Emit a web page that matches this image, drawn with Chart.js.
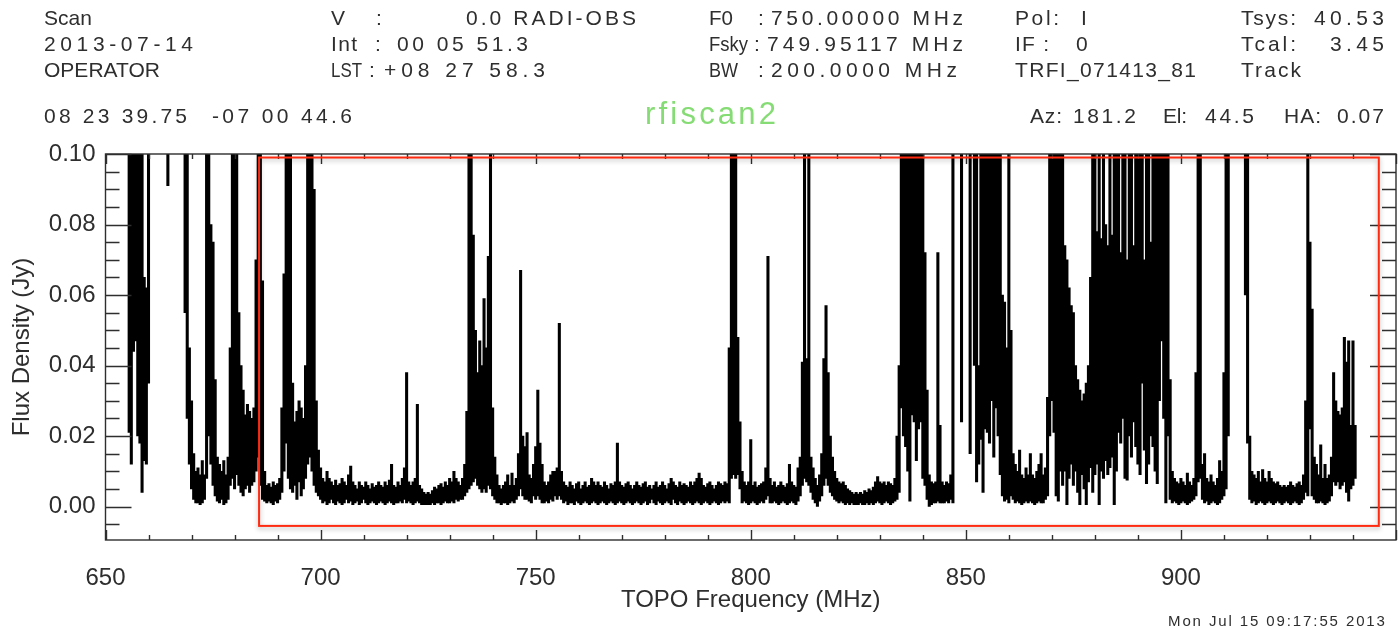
<!DOCTYPE html>
<html>
<head>
<meta charset="utf-8">
<title>rfiscan2</title>
<script src="https://cdn.jsdelivr.net/npm/chart.js@4.4.1/dist/chart.umd.min.js"></script>
<style>
  html, body { margin: 0; padding: 0; background: #fff; }
  #wrap { position: relative; width: 1398px; height: 627px; overflow: hidden; }
  #plot { position: absolute; left: 0; top: 0; }
  .hd { position: absolute; font-family: 'Liberation Sans', Arial, sans-serif; white-space: pre; color: #2e2e2e;
        transform-origin: 0 50%; }
</style>
</head>
<body>
<div id="wrap">
  <canvas id="plot" width="1398" height="627"></canvas>
</div>
<script>
// Spectrum, one floating bar per 0.5 MHz channel: min / max flux in mJy
// (150 means the channel is off the top of the plot)
const startMHz = 655.0;
const channelMHz = 0.5;

const fluxLoMJy = [
  150,21,12,44,47,20,18,4,13,12,35,150,150,150,150,150,150,150,150,91,
  150,150,150,150,150,150,150,55,25,12,5,2,1,1,0.5,1,2,8,20,12,
  6,3,1.5,1,2,0.5,1,2,6,8,5,9,6,4,3,5,6,4,6,7,
  10,14,6,2,1.5,1,1.5,1,0.5,1.5,1,2,4,10,18,8,5,4,6,2,
  7,3,5,8,12,14,10,6,4,3,2,1,1.5,0.5,1,2,1,0.5,1.5,1,
  0.5,1,2,1,1.5,0.5,1,1.5,0.5,1,2,1,0.5,1,1.5,1,0.5,1,1.5,1,
  0.5,1,1.5,1,0.5,1,1,1.5,1,2,1,1.5,1,0.5,1,1.5,1,0.5,0.5,0.5,
  0.5,0.5,1,0.5,1,1,0.5,1,1.5,1,1,1.5,1,2,1.5,2,2,3,4,5,
  6,7,8,6,5,4,5,4,6,5,3,2,1,1,0.5,1,1,0.5,1,1.5,
  1,2,3,5,3,2,2,1.5,1,3,2,3,2,1,1,1.5,1,2,1.5,3,
  2,3,2,1,1.5,0.5,1,1,0.5,1.5,1,0.5,1,1.5,1,0.5,1,1.5,1,0.5,
  1,1.5,1,0.5,1,1.5,1,0.5,1,1.5,1,0.5,1,1.5,1,0.5,1,1.5,1,0.5,
  1,1.5,0.5,1,2,1,0.5,1.5,1,0.5,1,1.5,1,0.5,2,1,0.5,1.5,1,0.5,
  1,1.5,1,0.5,1,1.5,1,0.5,1,1.5,1,0.5,1,1.5,1,0.5,1,1.5,1,1.5,
  1,8,9,8,9,5,1,1.5,1,0.5,1,1.5,1,0.5,1,1.5,1,2,3,1,
  1,1.5,1,0.5,1,1.5,1,0.5,1,1.5,1,0.5,1.5,3,6,8,7,6,4,2,
  1,0,1.5,3,6,8,6,4,3,2,1.5,1,1.5,1,0.5,1,0.5,1,0.5,0.5,
  0.5,1,0.5,0.5,1,0.5,1,0.5,1,1.5,1,0.5,1,1.5,1,0.5,1,1.5,2,4,
  28,20,17,10,1.5,26,24,13,22,24,8,6,2,0,0.5,1,1,1.5,1,1,
  1,1.5,1,2,1,150,150,150,24,150,150,150,15,150,40,7,12,19,4,22,
  21,18,30,14,28,20,9,3,1.5,2,1,3,2,1,1.5,1,0.5,1,1.5,1,
  1.5,1,0.5,1,1.5,1,1,2,3,20,30,21,3,1.5,10,6,10,0.5,8,12,
  6,10,4,0.5,9,5,0.5,7,11,4,9,12,0.5,10,8,13,9,11,14,0.5,
  10,21,18,25,8,7.5,20,14,24,17,12,9,35,16,6.5,12,20,17,10,6.5,
  30,47,25,1,20,2,1,1.5,1,0.5,1,1.5,1,0.5,1,1.5,2,3,7,8,
  2,1,1.5,0.5,1,1.5,1,0.5,1,2,3,5,20,150,150,150,150,150,150,150,
  60,18,2,1,1.5,0.5,1,1.5,1,0.5,1,1.5,1,0.5,1,1.5,1,0.5,1,1.5,
  1,0.5,1,1.5,1,0.5,1,2,4,3,22,3,2,1,1,1.5,1,0.5,1,1.5,
  3,7,6,7,5,6,7,4,1.5,5,6,8
];

const fluxHiMJy = [
  150,150,150,150,150,150,150,150,65,62,150,150,150,150,150,150,150,150,150,150,
  150,150,150,150,150,150,150,150,150,45,30,15,10,11,9,13,9,150,150,80,
  75,36,14,12,10,13,9,14,45,150,150,150,55,40,33,26,29,27,25,28,
  70,150,150,64,10,6,6.5,5.5,7,6,6.5,8,28,66,150,150,150,35,24,27,
  30,28,25,40,150,150,150,90,30,16,11,8,7,10,8,7,6,7.5,6,6.5,
  8,7,6,9,11.5,7,6,5,7,6,5.5,7,6,5,6.5,5.5,6,7,6,5.5,
  7,6,7.5,12,6,5.5,7,6,8,11,38,7,6,7,8,29,6,5,4,3.5,
  4,3.5,4.5,5.5,5,6,6.5,5.5,7,6,8,7,10,8,7,6,8,12,27,150,
  150,77,50,38,47,40,59,45,71,150,28,14,9,6,5,6,7,9,6,9.5,
  6,8,15,67,20,17,21,9,8,12,17,33,18,12,7,6,7,9,10,10,
  11,52,10,7,6,5.5,7,6,5,6.5,7,5,6,7,5.5,6,8,7,6,7,
  6,5.5,7,6,5,6.5,6,7,18,7,6,5.5,6.5,7,6,5,6,7,6,5.5,
  6.5,7,5.5,6,5,6,7,5.5,6,7,6,5,6.5,8,7,6,5.5,7,6,6.5,
  6,5.5,7,6,7,8,9.5,8,6,5.5,6.5,7,6,5,6,7,6.5,6,7,6.5,
  45,150,150,150,48,24,10,7,6,7,19,6,7,5.5,6,6.5,7,11,71,8,
  6,7,5.5,6,7,6,5.5,6.5,12,7,6,5.5,11,14,41,150,42,150,14,11,
  8,6,9,15,42,57,38,20,14,10,8,7,6.5,7,6,5,4.5,4,3.5,4,
  3.5,4,3.5,4.5,4,5,4.5,5.5,7,8.5,7,6.5,7,6,7,6.5,6,8,20,40,
  150,150,150,150,150,150,150,150,150,150,150,72,33,9,7,6.5,7,72,23,7,
  6,7,6.5,9,150,150,150,150,150,150,150,150,150,150,150,150,40,150,150,150,
  150,150,150,150,150,150,150,60,58,45,150,50,15,12,10,16,9,8,11,9,
  15,9,8,10,12,15,9,11,31,150,150,150,150,150,150,150,74,70,62,57,
  55,40,36,33,30,32,35,40,65,150,150,78,150,76,150,80,74,150,77,150,
  150,150,72,150,150,70,150,150,74,150,150,150,150,70,150,150,75,150,150,150,
  150,150,150,150,150,36,10,8,7,6.5,8,7,6,9.5,7,6,8,38,150,150,
  12,15,8,7,9,7,6,8,13,10,38,150,150,150,150,150,150,150,150,150,
  150,150,20,10,9,8,10,7,10.5,8,7,10,8,7,6.5,7,6,5.5,6,5.5,
  6,7,6,5.5,6.5,7,6,9,30,150,75,56,14,12,9,17.5,8,12,8,9,
  14,38,30,27,26,28,48,41,47,23,47,23
];

// axis ranges and labelled ticks
const freqRangeMHz = [650, 950];
const fluxRangeJy = [-0.0095, 0.1];
const xTickLabels = [650, 700, 750, 800, 850, 900];
const yTickLabels = [0.00, 0.02, 0.04, 0.06, 0.08, 0.10];
const xMinorStep = 10, xMajorStep = 50;
const yMinorStep = 0.005, yMajorStep = 0.02;

// red highlight box (data units)
const highlightMHz = [685.7, 946.0];
const highlightJy = [-0.0055, 0.099];

// header text: [text, left, right, row]; each piece is stretched to its span
const rowY = [17.5, 43.5, 69.5, 115.5];
const header = [
  ['Scan', 44, 92, 0], ['V', 331, 345, 0], [':', 376, 380, 0], ['0.0 RADI-OBS', 466, 636, 0],
  ['F0', 709, 733, 0], [':', 758, 762, 0], ['750.00000 MHz', 771, 963, 0],
  ['Pol:', 1015, 1059, 0], ['I', 1081, 1085, 0], ['Tsys:', 1241, 1296, 0], ['40.53', 1314, 1384, 0],
  ['2013-07-14', 44, 193, 1], ['Int', 331, 357, 1], [':', 375, 379, 1], ['00 05 51.3', 397, 528, 1],
  ['Fsky', 709, 748, 1], [':', 754, 758, 1], ['749.95117 MHz', 767, 963, 1],
  ['IF :', 1015, 1049, 1], ['0', 1076, 1087, 1], ['Tcal:', 1241, 1296, 1], ['3.45', 1330, 1384, 1],
  ['OPERATOR', 44, 160, 2], ['LST', 331, 362, 2], [':', 369, 373, 2], ['+08 27 58.3', 384, 545, 2],
  ['BW', 709, 738, 2], [':', 758, 762, 2], ['200.0000 MHz', 771, 957, 2],
  ['TRFI_071413_81', 1015, 1196, 2], ['Track', 1241, 1301, 2],
  ['08 23 39.75', 44, 187, 3], ['-07 00 44.6', 212, 352, 3],
  ['Az:', 1030, 1062, 3], ['181.2', 1073, 1136, 3], ['El:', 1163, 1187, 3], ['44.5', 1205, 1254, 3],
  ['HA:', 1284, 1321, 3], ['0.07', 1337, 1384, 3]
];

const FONT = "'Liberation Sans', Arial, sans-serif";
const INK = '#2e2e2e';

const wrap = document.getElementById('wrap');
const measure = document.createElement('canvas').getContext('2d');

function placeText(text, left, right, centerY, size, color) {
  const el = document.createElement('div');
  el.className = 'hd';
  el.textContent = text;
  el.style.fontSize = size + 'px';
  el.style.lineHeight = size + 'px';
  el.style.left = left + 'px';
  el.style.top = (centerY - size * 0.5) + 'px';
  if (color) el.style.color = color;
  measure.font = size + 'px ' + FONT;
  const w = measure.measureText(text).width;
  if (text.length > 1) {
    const ls = (right - left - w) / (text.length - 1);
    if (ls >= -0.3) el.style.letterSpacing = ls.toFixed(2) + 'px';
    else el.style.transform = 'scaleX(' + ((right - left) / w).toFixed(3) + ')';
  }
  wrap.appendChild(el);
}

header.forEach(([text, left, right, row]) => placeText(text, left, right, rowY[row], 21));
placeText('rfiscan2', 645, 776, 113, 31, '#86dc74');
placeText('Mon Jul 15 09:17:55 2013', 1168, 1385, 620, 15);

const channels = fluxLoMJy.map((lo, i) => ({
  x: startMHz + i * channelMHz,
  y: [lo / 1000, fluxHiMJy[i] / 1000]
}));

// frame with inward ticks on all four sides, IDL style
const framePlugin = {
  id: 'frame',
  afterDatasetsDraw(chart) {
    const { ctx, chartArea: a, scales: { x, y } } = chart;
    ctx.save();
    ctx.strokeStyle = INK;
    ctx.lineWidth = 1.4;
    ctx.strokeRect(a.left, a.top, a.right - a.left, a.bottom - a.top);
    ctx.beginPath();
    const nx = Math.round((freqRangeMHz[1] - freqRangeMHz[0]) / xMinorStep);
    for (let i = 0; i <= nx; i++) {
      const f = freqRangeMHz[0] + i * xMinorStep;
      const px = Math.round(x.getPixelForValue(f)) + 0.5;
      const len = (f % xMajorStep === 0) ? 10 : 5;
      ctx.moveTo(px, a.bottom); ctx.lineTo(px, a.bottom - len);
      ctx.moveTo(px, a.top); ctx.lineTo(px, a.top + len);
    }
    const ny = Math.round((fluxRangeJy[1] + 0.005) / yMinorStep);
    for (let j = -1; j < ny; j++) {
      const v = j * yMinorStep;
      if (v < fluxRangeJy[0] || v > fluxRangeJy[1]) continue;
      const py = Math.round(y.getPixelForValue(v)) + 0.5;
      const major = Math.abs(v / yMajorStep - Math.round(v / yMajorStep)) < 1e-6;
      const len = major ? 26 : 14;
      ctx.moveTo(a.left, py); ctx.lineTo(a.left + len, py);
      ctx.moveTo(a.right, py); ctx.lineTo(a.right - len, py);
    }
    ctx.stroke();
    ctx.restore();
  },
  afterDraw(chart) {
    const { ctx, scales: { x, y } } = chart;
    const x0 = x.getPixelForValue(highlightMHz[0]);
    const x1 = x.getPixelForValue(highlightMHz[1]);
    const y0 = y.getPixelForValue(highlightJy[1]);
    const y1 = y.getPixelForValue(highlightJy[0]);
    ctx.save();
    ctx.strokeStyle = '#ff2a10';
    ctx.lineWidth = 2;
    ctx.shadowColor = 'rgba(0,0,0,0.3)';
    ctx.shadowBlur = 5;
    ctx.shadowOffsetY = 2;
    ctx.strokeRect(x0, y0, x1 - x0, y1 - y0);
    ctx.restore();
  }
};

new Chart(document.getElementById('plot'), {
  type: 'bar',
  data: {
    datasets: [{
      data: channels,
      backgroundColor: '#000',
      borderWidth: 0,
      barThickness: 2.4,
      grouped: false
    }]
  },
  options: {
    responsive: false,
    animation: false,
    devicePixelRatio: 1,
    layout: { padding: { top: 154, right: 2, left: 0, bottom: 0 } },
    plugins: { legend: { display: false }, tooltip: { enabled: false } },
    scales: {
      x: {
        type: 'linear',
        min: freqRangeMHz[0],
        max: freqRangeMHz[1],
        offset: false,
        grid: { display: false, drawTicks: false, tickLength: 0 },
        border: { display: false },
        afterBuildTicks: s => { s.ticks = xTickLabels.map(v => ({ value: v })); },
        afterFit: s => { s.height = 87; },
        ticks: {
          padding: 24, autoSkip: false, maxRotation: 0, color: INK,
          font: { family: FONT, size: 24 },
          callback: v => String(v)
        },
        title: {
          display: true, text: 'TOPO Frequency (MHz)', color: INK,
          font: { family: FONT, size: 24 }, padding: { top: 0, bottom: 12 }
        }
      },
      y: {
        min: fluxRangeJy[0],
        max: fluxRangeJy[1],
        grid: { display: false, drawTicks: false, tickLength: 0 },
        border: { display: false },
        afterBuildTicks: s => { s.ticks = yTickLabels.map(v => ({ value: v })); },
        afterFit: s => { s.width = 105.5; },
        ticks: {
          padding: 10, color: INK,
          font: { family: FONT, size: 24 },
          callback: v => v.toFixed(2)
        },
        title: {
          display: true, text: 'Flux Density (Jy)', color: INK,
          font: { family: FONT, size: 24 }, padding: { top: 8, bottom: 0 }
        }
      }
    }
  },
  plugins: [framePlugin]
});
</script>
</body>
</html>
